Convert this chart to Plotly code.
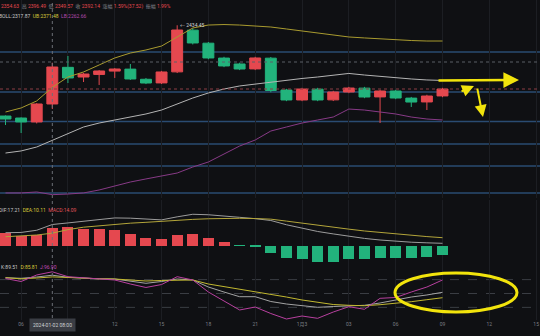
import pandas as pd
import plotly.graph_objects as go

W, H = 540, 336

# ---- hourly ETH candles, 2024-01-02 05:00 .. 2024-01-03 09:00 ----
times = pd.date_range("2024-01-02 05:00", periods=29, freq="h")

open_ = [2342.4, 2340.4, 2336.4, 2354.63, 2391.8, 2382.0, 2384.6, 2388.0, 2390.0, 2379.7,
         2376.0, 2387.2, 2429.5, 2416.3, 2401.2, 2395.2, 2390.2, 2401.1, 2368.8, 2358.7,
         2369.7, 2358.8, 2366.8, 2370.7, 2361.8, 2367.8, 2360.6, 2356.7, 2362.8]
high = [2343.0, 2341.0, 2355.5, 2396.49, 2403.3, 2386.2, 2389.0, 2391.0, 2395.2, 2381.0,
        2388.2, 2434.45, 2431.5, 2417.5, 2402.5, 2396.5, 2402.5, 2402.3, 2370.0, 2371.0,
        2371.0, 2368.0, 2372.0, 2372.0, 2369.0, 2369.0, 2361.8, 2364.0, 2371.0]
low = [2333.3, 2325.2, 2334.9, 2349.57, 2375.9, 2376.9, 2373.9, 2381.0, 2379.0, 2374.8,
       2374.9, 2386.0, 2415.0, 2400.0, 2392.0, 2389.0, 2389.0, 2366.5, 2357.5, 2357.5,
       2357.5, 2357.6, 2365.6, 2360.5, 2335.3, 2359.5, 2351.6, 2348.5, 2361.5]
close = [2339.4, 2336.4, 2354.62, 2392.14, 2381.0, 2385.0, 2388.1, 2390.1, 2380.0, 2375.9,
         2387.1, 2429.67, 2416.5, 2401.3, 2393.2, 2390.1, 2401.3, 2368.3, 2358.7, 2369.83,
         2358.7, 2366.8, 2370.8, 2361.7, 2367.8, 2360.7, 2356.6, 2362.7, 2369.83]

# Bollinger bands
boll_ub = [2346.5, 2350.6, 2357.7, 2371.48, 2382.0, 2387.1, 2394.2, 2401.3, 2406.3, 2409.4,
           2413.4, 2422.6, 2431.7, 2434.7, 2435.2, 2434.7, 2433.7, 2432.7, 2430.7, 2428.7,
           2426.6, 2424.6, 2422.6, 2421.6, 2420.5, 2419.5, 2419.0, 2418.5, 2418.5]
boll_mb = [2304.9, 2307.0, 2311.0, 2317.87, 2325.2, 2331.3, 2335.3, 2338.4, 2341.4, 2344.5,
           2348.5, 2354.6, 2360.7, 2365.8, 2369.8, 2372.9, 2374.9, 2376.9, 2379.0, 2380.5,
           2382.0, 2384.0, 2385.6, 2384.0, 2382.5, 2381.0, 2380.0, 2379.0, 2378.5]
boll_lb = [2264.4, 2264.4, 2265.4, 2262.66, 2263.3, 2264.4, 2267.4, 2271.5, 2275.5, 2278.6,
           2281.6, 2284.6, 2290.7, 2295.8, 2303.9, 2312.0, 2318.1, 2327.2, 2331.3, 2335.3,
           2338.4, 2341.4, 2349.5, 2348.5, 2346.5, 2344.5, 2341.4, 2339.4, 2338.4]

# MACD
dif = [10.5, 10.7, 12.5, 17.21, 18.5, 20.0, 21.5, 22.6, 22.4, 21.6, 21.0, 23.5, 25.6, 25.2,
       24.4, 23.1, 22.0, 20.5, 17.0, 14.0, 11.5, 9.5, 7.4, 5.8, 4.5, 3.5, 2.7, 2.2, 1.8]
dea = [7.2, 7.8, 8.6, 10.11, 13.0, 15.0, 16.3, 17.4, 18.3, 19.0, 19.9, 20.6, 21.4, 21.9,
       22.2, 22.3, 22.1, 21.6, 20.0, 18.2, 16.5, 14.9, 13.4, 11.9, 10.6, 9.3, 8.3, 7.3, 6.4]
macd = [10.0, 8.0, 8.6, 14.09, 14.9, 13.8, 13.3, 12.5, 9.2, 6.4, 5.1, 8.6, 9.2, 6.4, 3.1,
        -0.3, -0.8, -6.0, -10.5, -11.1, -13.3, -13.3, -11.3, -11.3, -10.5, -10.5, -10.5, -9.4, -7.8]

# KDJ
kdj_k = [84.1, 82.8, 85.6, 89.51, 85.0, 82.8, 81.7, 81.3, 77.0, 72.0, 75.9, 81.3, 79.2, 64.0,
         53.2, 43.1, 43.1, 32.7, 27.3, 24.1, 20.2, 21.9, 23.6, 24.5, 29.5, 36.0, 42.4, 46.8, 52.6]
kdj_d = [84.1, 81.7, 83.5, 85.81, 84.6, 82.8, 81.7, 81.3, 79.2, 77.0, 78.1, 79.2, 79.2, 70.5,
         65.1, 59.7, 54.3, 48.3, 42.4, 36.0, 30.6, 26.2, 24.5, 23.6, 25.8, 28.8, 32.3, 36.6, 40.9]
kdj_j = [82.4, 75.9, 90.0, 96.90, 86.3, 83.5, 81.3, 79.2, 70.5, 63.0, 69.4, 86.3, 79.2, 53.2,
         33.8, 14.4, 20.8, 6.8, -5.1, 1.4, -3.6, 10.0, 21.5, 15.9, 39.6, 41.4, 53.2, 64.0, 79.2]

# user-drawn horizontal price levels
levels = [2407.35, 2366.78, 2336.87, 2314.05, 2291.73, 2264.35]
guide_level = 2397.2

tick_times = pd.date_range("2024-01-02 06:00", "2024-01-03 15:00", freq="3h")
tick_text = ["06", "", "12", "15", "18", "21", "1月3", "03", "06", "09", "12", "15"]

cursor = 3  # hovered candle (08:00)

# ---- styling ----
BG = "#0f1013"
RED = "#e5484f"
GREEN = "#22b37c"
FONT = "Roboto, 'Noto Sans CJK SC', sans-serif"

# pixel layout helpers
def py(y):
    return 1 - y / H

def px(x):
    return x / W

PX_PER_HOUR = 15.607
PX_PER_USD = 0.986
x_lo = times[0] - pd.Timedelta(hours=5.5 / PX_PER_HOUR)
x_hi = times[0] + pd.Timedelta(hours=534.5 / PX_PER_HOUR)
p_top = close[cursor] + 67 / PX_PER_USD
p_bot = p_top - 198 / PX_PER_USD

MACD_PX = 1.22
macd_rng = [(245.5 - 263) / MACD_PX, (245.5 - 200) / MACD_PX]
KDJ_PX = 0.463
kdj_rng = [50 - (320 - 293.5) / KDJ_PX, 50 + (293.5 - 263) / KDJ_PX]

fig = go.Figure()

fig.add_trace(go.Candlestick(
    x=times, open=open_, high=high, low=low, close=close,
    increasing=dict(line=dict(color=RED, width=1), fillcolor=RED),
    decreasing=dict(line=dict(color=GREEN, width=1), fillcolor=GREEN),
    whiskerwidth=0, xaxis="x", yaxis="y", showlegend=False, hoverinfo="skip"))

for vals, col in [(boll_ub, "#a99b2f"), (boll_mb, "#b4b4b4"), (boll_lb, "#873a86")]:
    fig.add_trace(go.Scatter(x=times, y=vals, mode="lines", line=dict(color=col, width=1),
                             xaxis="x", yaxis="y", showlegend=False, hoverinfo="skip"))

fig.add_trace(go.Bar(x=times, y=macd, marker=dict(color=[RED if v >= 0 else GREEN for v in macd], line=dict(width=0)),
                     width=0.705 * 3600000, xaxis="x2", yaxis="y2", showlegend=False, hoverinfo="skip"))
for vals, col in [(dif, "#9c9c9c"), (dea, "#b3a53a")]:
    fig.add_trace(go.Scatter(x=times, y=vals, mode="lines", line=dict(color=col, width=1),
                             xaxis="x2", yaxis="y2", showlegend=False, hoverinfo="skip"))

for vals, col in [(kdj_k, "#a3a3a3"), (kdj_d, "#c2b830"), (kdj_j, "#b8409f")]:
    fig.add_trace(go.Scatter(x=times, y=vals, mode="lines", line=dict(color=col, width=1),
                             xaxis="x3", yaxis="y3", showlegend=False, hoverinfo="skip"))

shapes = []
for lv in levels:
    shapes.append(dict(type="line", xref="paper", x0=0, x1=1, yref="y", y0=lv, y1=lv,
                       line=dict(color="#2a4b72", width=1.3), layer="below"))
shapes.append(dict(type="line", xref="paper", x0=0, x1=1, yref="y", y0=guide_level, y1=guide_level,
                   line=dict(color="#5b5e66", width=1, dash="dot")))
shapes.append(dict(type="line", xref="paper", x0=0, x1=1, yref="y", y0=close[-1], y1=close[-1],
                   line=dict(color="#8c3d44", width=1, dash="dot")))
shapes.append(dict(type="line", xref="x", x0=times[cursor], x1=times[cursor], yref="paper",
                   y0=py(318), y1=1, line=dict(color="#6c6f76", width=1, dash="dot")))
for lv in (20, 50, 80):
    shapes.append(dict(type="line", xref="paper", x0=0, x1=1, yref="y3", y0=lv, y1=lv,
                       line=dict(color="#3a3d43", width=1, dash="dash"), layer="below"))
shapes.append(dict(type="circle", xref="paper", yref="paper",
                   x0=px(395), x1=px(517), y0=py(312), y1=py(273),
                   line=dict(color="#f2e40c", width=3)))

o, h, l, c = open_[cursor], high[cursor], low[cursor], close[cursor]
prev = close[cursor - 1]
chg = c - prev
G = "#83868d"
head1 = (f"<span style='color:{RED}'>{o:.2f}</span>  <span style='color:{G}'>高</span> "
         f"<span style='color:{RED}'>{h:.2f}</span>  <span style='color:{G}'>低</span> "
         f"<span style='color:{RED}'>{l:.2f}</span>  <span style='color:{G}'>收</span> "
         f"<span style='color:{RED}'>{c:.2f}</span>  <span style='color:{G}'>涨幅</span> "
         f"<span style='color:{RED}'>{chg / prev * 100:.2f}%({chg:.2f})</span>  "
         f"<span style='color:{G}'>振幅</span> <span style='color:{RED}'>{(h - l) / prev * 100:.2f}%</span>")
head2 = (f"<span style='color:#c8c8c8'>BOLL:{boll_mb[cursor]:.2f}</span>  "
         f"<span style='color:#d8c93a'>UB:{boll_ub[cursor]:.2f}</span>  "
         f"<span style='color:#b54ab0'>LB:{boll_lb[cursor]:.2f}</span>")
head3 = (f"<span style='color:#c8c8c8'>DIF:{dif[cursor]:.2f}</span>  "
         f"<span style='color:#d8c93a'>DEA:{dea[cursor]:.2f}</span>  "
         f"<span style='color:#e0525a'>MACD:{macd[cursor]:.2f}</span>")
head4 = (f"<span style='color:#c8c8c8'>K:{kdj_k[cursor]:.2f}</span>  "
         f"<span style='color:#d8c93a'>D:{kdj_d[cursor]:.2f}</span>  "
         f"<span style='color:#c04ab8'>J:{kdj_j[cursor]:.2f}</span>")

ann = [
    dict(x=0, y=py(6), xref="paper", yref="paper", xanchor="left", yanchor="middle", xshift=-1,
         text=head1, showarrow=False, font=dict(size=5, family=FONT)),
    dict(x=0, y=py(16), xref="paper", yref="paper", xanchor="left", yanchor="middle", xshift=-3,
         text=head2, showarrow=False, font=dict(size=5, family=FONT)),
    dict(x=0, y=py(210), xref="paper", yref="paper", xanchor="left", yanchor="middle", xshift=-3,
         text=head3, showarrow=False, font=dict(size=5, family=FONT)),
    dict(x=0, y=py(267), xref="paper", yref="paper", xanchor="left", yanchor="middle", xshift=-1,
         text=head4, showarrow=False, font=dict(size=5, family=FONT)),
    dict(x=times[high.index(max(high))], y=max(high), xref="x", yref="y", xanchor="left",
         yanchor="middle", xshift=1, text=f"← {max(high):.2f}", showarrow=False,
         font=dict(size=5, family=FONT, color="#d0d2d6")),
    dict(x=times[cursor], y=py(324.5), xref="x3", yref="paper", xanchor="center", yanchor="middle",
         text=times[cursor].strftime("%Y-%m-%d %H:%M"), showarrow=False, bgcolor="#3a3d44",
         borderpad=3, font=dict(size=5, family=FONT, color="#cfd2d6")),
    # hand-drawn yellow arrows
    dict(x=px(519), y=py(80), xref="paper", yref="paper", ax=-82, ay=0.5, showarrow=True,
         arrowhead=2, arrowsize=1.2, arrowwidth=2.6, arrowcolor="#f2e40c", text=""),
    dict(x=px(474), y=py(86), xref="paper", yref="paper", ax=-14, ay=6, showarrow=True,
         arrowhead=2, arrowsize=1.2, arrowwidth=2, arrowcolor="#f2e40c", text=""),
    dict(x=px(483), y=py(117), xref="paper", yref="paper", ax=-6, ay=-30, showarrow=True,
         arrowhead=2, arrowsize=1.2, arrowwidth=2, arrowcolor="#f2e40c", text=""),
]

xcommon = dict(range=[x_lo, x_hi], type="date", showgrid=True, gridcolor="#1c1e23", gridwidth=1,
               tickvals=tick_times, ticktext=tick_text, zeroline=False, showline=False,
               ticks="", rangeslider=dict(visible=False), fixedrange=True)
ycommon = dict(showgrid=False, zeroline=False, showticklabels=False, showline=False, fixedrange=True)

fig.update_layout(
    width=W, height=H, margin=dict(l=0, r=0, t=0, b=0),
    paper_bgcolor=BG, plot_bgcolor=BG, showlegend=False,
    boxgap=0.3, boxgroupgap=0, bargap=0,
    xaxis=dict(**xcommon, anchor="y", showticklabels=False),
    xaxis2=dict(**xcommon, anchor="y2", matches="x", showticklabels=False),
    xaxis3=dict(**xcommon, anchor="y3", matches="x", showticklabels=True,
                tickfont=dict(size=5, color="#7b7e85", family=FONT)),
    yaxis=dict(**ycommon, domain=[py(198), 1], range=[p_bot, p_top]),
    yaxis2=dict(**ycommon, domain=[py(263), py(200)], range=macd_rng),
    yaxis3=dict(**ycommon, domain=[py(320), py(263)], range=kdj_rng),
    shapes=shapes, annotations=ann,
)

fig.write_html("out.html")
